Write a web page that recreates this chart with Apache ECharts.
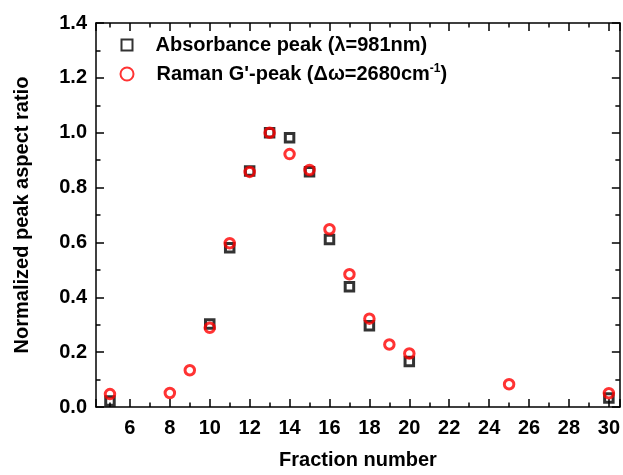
<!DOCTYPE html>
<html>
<head>
<meta charset="utf-8">
<script src="https://cdn.jsdelivr.net/npm/echarts@6/dist/echarts.min.js"></script>
<style>
  html, body { margin: 0; padding: 0; background: #fff; }
  #chart { width: 623px; height: 475px; }
</style>
</head>
<body>
<div id="chart"></div>
<script>
  // 数据
  const absX = [5, 10, 11, 12, 13, 14, 15, 16, 17, 18, 20, 30];
  const absY = [0.022, 0.303, 0.581, 0.86, 1.0, 0.982, 0.858, 0.611, 0.438, 0.296, 0.166, 0.033];
  const ramX = [5, 8, 9, 10, 11, 12, 13, 14, 15, 16, 17, 18, 19, 20, 25, 30];
  const ramY = [0.047, 0.051, 0.134, 0.289, 0.597, 0.857, 1.0, 0.922, 0.864, 0.648, 0.484, 0.322, 0.228, 0.195, 0.083, 0.05];
  const absName = 'Absorbance peak (λ=981nm)';
  const ramName = "Raman G'-peak (Δω=2680cm-1)";

  const font = "'Liberation Sans', Arial, sans-serif";
  const axisColor = '#000';

  const chart = echarts.init(document.getElementById('chart'));

  // x 轴：主刻度轴 + 次刻度轴（上下各一组）
  function xAxisOf(position, major, showLabel) {
    const step = major ? 2 : 1;
    return {
      type: 'value',
      position: position,
      min: 4.3,
      max: 30.55,
      minInterval: step,
      maxInterval: step,
      axisLine: { show: major, lineStyle: { color: axisColor, width: 1.5 } },
      axisTick: {
        show: true,
        inside: true,
        length: major ? 8 : 4.5,
        lineStyle: { color: axisColor, width: 1.5 },
      },
      axisLabel: {
        show: showLabel,
        margin: 11,
        color: '#000',
        fontSize: 20,
        fontWeight: 'bold',
        fontFamily: font,
        formatter: (v) => (Number.isInteger(v) ? String(v) : ''),
      },
      splitLine: { show: false },
    };
  }

  function yAxisOf(position, showLabel) {
    return {
      type: 'value',
      position: position,
      min: 0,
      max: 1.4,
      interval: 0.2,
      axisLine: { show: true, lineStyle: { color: axisColor, width: 1.5 } },
      axisTick: {
        show: true,
        inside: true,
        length: 8,
        lineStyle: { color: axisColor, width: 1.5 },
      },
      minorTick: {
        show: true,
        splitNumber: 2,
        length: 4.5,
        lineStyle: { color: axisColor, width: 1.5 },
      },
      axisLabel: {
        show: showLabel,
        margin: 9,
        color: '#000',
        fontSize: 20,
        fontWeight: 'bold',
        fontFamily: font,
        formatter: (v) => v.toFixed(1),
      },
      splitLine: { show: false },
      minorSplitLine: { show: false },
    };
  }

  const bottomMajor = xAxisOf('bottom', true, true);
  bottomMajor.name = 'Fraction number';
  bottomMajor.nameLocation = 'middle';
  bottomMajor.nameGap = 43;
  bottomMajor.nameTextStyle = { color: '#000', fontSize: 20, fontWeight: 'bold', fontFamily: font };

  const leftAxis = yAxisOf('left', true);
  leftAxis.name = 'Normalized peak aspect ratio';
  leftAxis.nameLocation = 'middle';
  leftAxis.nameGap = 64;
  leftAxis.nameTextStyle = { color: '#000', fontSize: 20, fontWeight: 'bold', fontFamily: font };

  const base = { color: '#000', fontSize: 20, fontWeight: 'bold', fontFamily: font, lineHeight: 22 };
  const legendText = {
    color: '#000',
    fontSize: 20,
    fontWeight: 'bold',
    fontFamily: font,
    rich: {
      first: Object.assign({}, base, { padding: [0, 0, 0, 18] }),
      a: base,
      sup: { color: '#000', fontSize: 12, fontWeight: 'bold', fontFamily: font, lineHeight: 22, padding: [0, 0, 10, 0] },
    },
  };
  const legendFormatter = (name) => {
    if (name === ramName) return "{first|Raman G'-peak (Δω=2680cm}{sup|-1}{a|)}";
    return '{first|' + name + '}';
  };

  chart.setOption({
    animation: false,
    backgroundColor: '#fff',
    grid: { left: 96, right: 3, top: 23, bottom: 65 },
    legend: [
      {
        data: [absName],
        left: 120.5,
        top: 35,
        padding: 0,
        itemWidth: 11,
        itemHeight: 11,
        textStyle: legendText,
        formatter: legendFormatter,
      },
      {
        data: [ramName],
        left: 119.5,
        top: 63,
        padding: 0,
        itemWidth: 13,
        itemHeight: 13,
        textStyle: legendText,
        formatter: legendFormatter,
      },
    ],
    xAxis: [
      bottomMajor,
      xAxisOf('bottom', false, false),
      xAxisOf('top', true, false),
      xAxisOf('top', false, false),
    ],
    yAxis: [leftAxis, yAxisOf('right', false)],
    series: [
      {
        name: absName,
        type: 'scatter',
        symbol: 'rect',
        symbolSize: 8.5,
        itemStyle: { color: 'rgba(0,0,0,0)', borderColor: '#000', borderWidth: 3 },
        data: absX.map((x, i) => [x, absY[i]]),
      },
      {
        name: ramName,
        type: 'scatter',
        symbol: 'circle',
        symbolSize: 9.5,
        itemStyle: { color: 'rgba(0,0,0,0)', borderColor: '#ff0000', borderWidth: 3 },
        data: ramX.map((x, i) => [x, ramY[i]]),
      },
    ],
  });
</script>
</body>
</html>
